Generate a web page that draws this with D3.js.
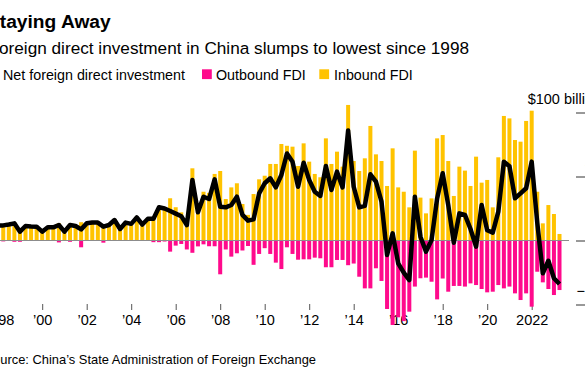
<!DOCTYPE html>
<html>
<head>
<meta charset="utf-8">
<script src="https://cdn.jsdelivr.net/npm/d3@7"></script>
<style>
  body { margin: 0; background: #fff; }
  svg { display: block; font-family: "Liberation Sans", Arial, sans-serif; }
</style>
</head>
<body>
<div id="chart"></div>
<script>
// quarterly, 1998 Q1 .. 2023 Q2, $ billions
var years = d3.range(1998, 2024);
var quarters = [];
years.forEach(function(y){
	[1,2,3,4].forEach(function(q){
		if (y < 2023 || q <= 2) quarters.push(y + "Q" + q);
	});
});

var inbound = [11.6, 12.2, 12.8, 14, 7.5, 11.5, 11.2, 11, 7.5, 10.6,
	10.6, 13.5, 7.5, 12.8, 11.5, 14.3, 13.6, 14.2, 14.2, 12,
	12.3, 16.5, 9.5, 14.5, 13.5, 18.5, 13, 17.5, 18.5, 27,
	26, 33, 26, 22, 13.4, 56.4, 25.2, 38.1, 37.2, 52,
	54.3, 32.4, 41.5, 44.7, 28.5, 20, 36.3, 47.8, 50.6, 59.8,
	59.8, 75.4, 74, 73.3, 58.2, 75.9, 61.6, 52, 49.4, 79.8,
	59.8, 69.4, 57.7, 105.9, 62.1, 54.3, 64.2, 89.5, 67.3, 62.1,
	42.6, 72, 41.5, 38.1, 25.9, 70.2, 33.5, 21.2, 32.9, 79.8,
	82.4, 62.1, 34.8, 57.7, 54.6, 42.6, 65.5, 45.2, 47.3, 25.9,
	65, 97.3, 95.4, 78.5, 77.2, 93.4, 101.4, 38.1, 13.4, 27.7,
	20.7, 5.1];

var outbound = [-0.3, -0.7, -0.3, -1, -1, -0.3, -0.3, -0.3, -0.3, -0.3,
	-0.3, -1.5, -0.3, -1, -0.3, -5.3, -0.3, -0.3, -0.3, -1.7,
	-0.3, -0.3, -0.3, -0.3, -0.3, -0.3, -0.3, -0.3, -1.3, -1.3,
	-0.8, -8.7, -4, -2.7, -7, -9.6, -4.6, -3, -4.5, -4.5,
	-26.4, -7, -12.6, -10, -7.8, -4.3, -19, -10.5, -6, -10.5,
	-17.3, -22.3, -5.3, -10.5, -15, -14.7, -14.7, -13.4, -13.9, -20.9,
	-20.9, -15.2, -15.2, -19.3, -18, -28.3, -37.4, -37.4, -21.7, -31.6,
	-53.5, -66, -60, -63, -55.6, -36, -29.5, -29, -32.2, -46,
	-29.7, -40, -35.5, -35.5, -36, -33.5, -34.8, -37.9, -40.5, -40,
	-34.8, -37.4, -36, -41.3, -46.5, -41.3, -51.7, -24.4, -32.7, -37.9,
	-42.6, -38.7];

var net = [11.6, 11.8, 12.5, 13.4, 6.9, 11.3, 11, 10.8, 6.9, 10.3,
	10.3, 12.1, 6.9, 12.1, 11.3, 8.7, 13.4, 14, 14, 10.8,
	12.1, 16, 9, 14, 13, 18, 12.5, 17, 17, 26,
	25, 23, 21, 19, 12, 47.3, 22, 34.2, 32.4, 47.8,
	26.4, 25.9, 27.7, 34.2, 20, 15.5, 16.5, 36.8, 44.7, 48.6,
	41.5, 51.2, 68, 61.6, 42, 60.8, 47.3, 38.1, 34.8, 58.2,
	39.5, 53.8, 41.5, 86, 42, 25.9, 27, 51.7, 46, 30.3,
	-11.3, 5.6, -17.8, -25.1, -30.9, 34.2, 3, -8.7, 0.4, 32.9,
	52.5, 27.7, -1.7, 21.2, 20, 9, -4.8, 27.7, 8, 6.2,
	22.5, 61.6, 58, 33, 36.8, 40.8, 61.6, 14, -25.6, -15.8,
	-29.5, -34];

var yTicks = [-50, 0, 50, 100];
var yTickLabels = ["\u221250", "0", "50", "$100 billion"];

var width = 585, height = 386;
var YELLOW = "#ffc300", PINK = "#ff0a8c";

var svg = d3.select("#chart").append("svg")
	.attr("width", width)
	.attr("height", height);

var x = d3.scalePoint().domain(quarters).range([-2.3, 559.5]);
var y = d3.scaleLinear().domain([-50, 100]).range([304.5, 112.5]);
var barW = 4;

// titles
svg.append("text").attr("x", -13).attr("y", 27.5)
	.attr("font-size", "19.2px").attr("font-weight", "bold").attr("fill", "#000")
	.text("Staying Away");
svg.append("text").attr("x", -11.5).attr("y", 53.5)
	.attr("font-size", "17.2px").attr("fill", "#000")
	.text("Foreign direct investment in China slumps to lowest since 1998");

// legend
var lg = svg.append("g").attr("font-size", "14.3px").attr("fill", "#000");
lg.append("line").attr("x1", -22).attr("x2", -6).attr("y1", 74.5).attr("y2", 74.5)
	.attr("stroke", "#000").attr("stroke-width", 4);
lg.append("text").attr("x", 3).attr("y", 79.5).text("Net foreign direct investment");
lg.append("rect").attr("x", 202).attr("y", 69.3).attr("width", 9.8).attr("height", 9.8).attr("fill", PINK);
lg.append("text").attr("x", 216).attr("y", 79.5).text("Outbound FDI");
lg.append("rect").attr("x", 319.3).attr("y", 69.3).attr("width", 9.8).attr("height", 9.8).attr("fill", YELLOW);
lg.append("text").attr("x", 334).attr("y", 79.5).text("Inbound FDI");

// x axis (drawn under the bars)
var xTickVals = quarters.filter(function(q){ return +q.slice(0,4) % 2 === 0 && q.slice(4) === "Q1"; });
var xAxis = d3.axisBottom(x)
	.tickValues(xTickVals)
	.tickSize(6)
	.tickPadding(5)
	.tickFormat(function(q){
		var yr = q.slice(0,4);
		return (yr === "2022" || yr === "1998") ? yr : "\u2019" + yr.slice(2);
	});
var gx = svg.append("g").attr("transform", "translate(0,304)").call(xAxis);
gx.select(".domain").remove();
gx.selectAll("line").attr("stroke", "#555");
gx.selectAll("text").attr("font-size", "14.5px").attr("fill", "#000")
	.attr("font-family", "Liberation Sans, Arial, sans-serif");

// y axis on the right
var yAxis = d3.axisRight(y).tickValues(yTicks).tickSize(24)
	.tickFormat(function(d, i){ return yTickLabels[i]; });
var gy = svg.append("g").attr("transform", "translate(576,0)").call(yAxis);
gy.select(".domain").remove();
gy.selectAll("line").attr("stroke", "#333");
gy.selectAll("text")
	.attr("x", 25).attr("dy", "-9px")
	.attr("text-anchor", "end")
	.attr("font-size", "14.5px").attr("fill", "#000")
	.attr("font-family", "Liberation Sans, Arial, sans-serif");

// bars
var bars = svg.append("g");
bars.selectAll(".in").data(quarters).enter().append("rect")
	.attr("class", "in")
	.attr("x", function(d){ return x(d) - barW/2; })
	.attr("width", barW)
	.attr("y", function(d, i){ return y(inbound[i]); })
	.attr("height", function(d, i){ return y(0) - y(inbound[i]); })
	.attr("fill", YELLOW);
bars.selectAll(".out").data(quarters).enter().append("rect")
	.attr("class", "out")
	.attr("x", function(d){ return x(d) - barW/2; })
	.attr("width", barW)
	.attr("y", y(0))
	.attr("height", function(d, i){ return y(outbound[i]) - y(0); })
	.attr("fill", PINK);

// zero line
svg.append("line")
	.attr("x1", 0).attr("x2", 569)
	.attr("y1", y(0)).attr("y2", y(0))
	.attr("stroke", "#8c8c8c").attr("stroke-width", 1);

// net line
var line = d3.line()
	.x(function(d){ return x(d); })
	.y(function(d, i){ return y(net[i]); });
svg.append("path").datum(quarters)
	.attr("d", line)
	.attr("fill", "none")
	.attr("stroke", "#000")
	.attr("stroke-width", 4.5)
	.attr("stroke-linejoin", "round");

// source
svg.append("text").attr("x", -15.5).attr("y", 363.5)
	.attr("font-size", "12.9px").attr("fill", "#000")
	.text("Source: China\u2019s State Administration of Foreign Exchange");
</script>
</body>
</html>
